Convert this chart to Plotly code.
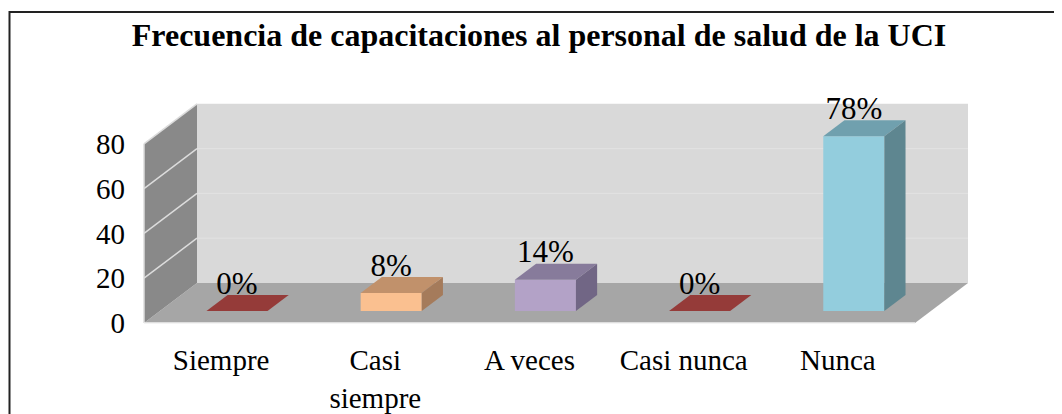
import plotly.graph_objects as go

# ---- data ----
categories = ["Siempre", "Casi siempre", "A veces", "Casi nunca", "Nunca"]
tick_text = ["Siempre", "Casi<br>siempre", "A veces", "Casi nunca", "Nunca"]
values = [0, 8, 14, 0, 78]
labels = ["0%", "8%", "14%", "0%", "78%"]
front_colors = ["#C0504D", "#FAC090", "#B3A2C7", "#C0504D", "#93CDDD"]
top_colors = ["#953B39", "#C1916B", "#877B9B", "#953B39", "#70A0AE"]
side_colors = ["#7A302E", "#A57B5B", "#716685", "#7A302E", "#5E8690"]
y_ticks = [0, 20, 40, 60, 80]
y_max = 80
title = "Frecuencia de capacitaciones al personal de salud de la UCI"

SERIF = "Times New Roman, Liberation Serif, DejaVu Serif, serif"

# ---- layout geometry ----
OFF = 8                               # page body margin offset
W, H = 1062, 414
L, R, T, B = 122, 30, 52, 92
PX_PER_CAT = 154.2
PX_PER_VAL = 2.24
X0_PIX, Y0_PIX = 144 - OFF, 323 - OFF  # figure pixel of (cat 0, value 0) on front plane
DXC = 53 / PX_PER_CAT                 # depth offset in category units
DYV = 40 / PX_PER_VAL                 # depth offset in value units
BAR_W = 0.396
D_FRONT, D_BACK = 0.3, 0.7
LABEL_DROP = 6.5 / PX_PER_VAL
n = len(categories)

plot_w = W - L - R
plot_h = H - T - B
x_range = [(L - X0_PIX) / PX_PER_CAT, (W - R - X0_PIX) / PX_PER_CAT]
y_range = [(Y0_PIX - (H - B)) / PX_PER_VAL, (Y0_PIX - T) / PX_PER_VAL]

fig = go.Figure()
shapes = []

def poly(pts, color, line_color=None, lw=0):
    path = "M " + " L ".join(f"{x},{y}" for x, y in pts) + " Z"
    d = dict(type="path", path=path, xref="x", yref="y", fillcolor=color,
             layer="below", line=dict(width=lw, color=line_color or color))
    shapes.append(d)

# floor
poly([(0, 0), (n, 0), (n + DXC, DYV), (DXC, DYV)], "#A6A6A6")
# back wall
poly([(DXC, DYV), (n + DXC, DYV), (n + DXC, DYV + y_max), (DXC, DYV + y_max)], "#D9D9D9")
# side wall
poly([(0, 0), (DXC, DYV), (DXC, DYV + y_max), (0, y_max)], "#898989")

for v in y_ticks[1:-1]:
    shapes.append(dict(type="line", xref="x", yref="y", x0=DXC, x1=n + DXC,
                       y0=DYV + v, y1=DYV + v, layer="below",
                       line=dict(color="#E2E2E2", width=1)))
for v in y_ticks[1:]:
    shapes.append(dict(type="line", xref="x", yref="y", x0=0, x1=DXC,
                       y0=v, y1=DYV + v, layer="below",
                       line=dict(color="#DCDCDC", width=1.5)))
# light edges
shapes.append(dict(type="line", xref="x", yref="y", x0=0, x1=0, y0=0, y1=y_max,
                   layer="below", line=dict(color="#DCDCDC", width=1.5)))
shapes.append(dict(type="line", xref="x", yref="y", x0=0, x1=n, y0=0, y1=0,
                   layer="below", line=dict(color="#F0F0F0", width=1.5)))

# ---- bars ----
y0 = D_FRONT * DYV
dx_front = D_FRONT * DXC
ddx = (D_BACK - D_FRONT) * DXC
ddy = (D_BACK - D_FRONT) * DYV
centers = [i + 0.5 + dx_front for i in range(n)]

fig.add_trace(go.Bar(x=centers, y=values, base=[y0] * n, width=BAR_W,
                     marker=dict(color=front_colors, line=dict(width=0)),
                     hoverinfo="skip", showlegend=False))

for i, v in enumerate(values):
    xl = centers[i] - BAR_W / 2
    xr = centers[i] + BAR_W / 2
    top = y0 + v
    # top face
    fig.add_trace(go.Scatter(x=[xl, xr, xr + ddx, xl + ddx, xl],
                             y=[top, top, top + ddy, top + ddy, top],
                             fill="toself", fillcolor=top_colors[i], mode="lines",
                             line=dict(width=0), hoverinfo="skip", showlegend=False))
    if v > 0:
        fig.add_trace(go.Scatter(x=[xr, xr + ddx, xr + ddx, xr, xr],
                                 y=[y0, y0 + ddy, top + ddy, top, y0],
                                 fill="toself", fillcolor=side_colors[i], mode="lines",
                                 line=dict(width=0), hoverinfo="skip", showlegend=False))

# data labels
fig.add_trace(go.Scatter(x=centers, y=[y0 + v + ddy - LABEL_DROP for v in values],
                         mode="text", text=labels, textposition="top center",
                         textfont=dict(family=SERIF, size=31, color="black"),
                         hoverinfo="skip", showlegend=False))

# outer frame (reference pixel -> paper)
def px2paper_x(px):
    return (px - OFF - L) / plot_w

def px2paper_y(py):
    return (H - B - (py - OFF)) / plot_h

shapes.append(dict(type="rect", xref="paper", yref="paper",
                   x0=px2paper_x(OFF + 1.5), x1=px2paper_x(1090),
                   y0=px2paper_y(440), y1=px2paper_y(12),
                   line=dict(color="#222222", width=2), layer="above"))

fig.update_layout(
    width=W, height=H, autosize=False,
    margin=dict(l=L, r=R, t=T, b=B, autoexpand=False),
    paper_bgcolor="white", plot_bgcolor="white",
    shapes=shapes,
    title=dict(text=f"<b>{title}</b>", x=(539 - OFF) / W, xref="container",
               xanchor="center", y=1 - (35 - OFF) / H, yref="container",
               yanchor="middle",
               font=dict(family=SERIF, size=32, color="black")),
    xaxis=dict(range=x_range, showgrid=False, zeroline=False, showline=False,
               automargin=False,
               tickmode="array", tickvals=[i + 0.5 for i in range(n)], ticktext=tick_text,
               ticks="", ticklabelstandoff=10,
               tickfont=dict(family=SERIF, size=29, color="black"),
               fixedrange=True),
    yaxis=dict(range=y_range, showgrid=False, zeroline=False, showline=False,
               automargin=False,
               tickmode="array", tickvals=y_ticks, ticks="", ticklabelstandoff=4,
               tickfont=dict(family=SERIF, size=29, color="black"),
               fixedrange=True),
    showlegend=False,
)

fig.write_html("out.html")
